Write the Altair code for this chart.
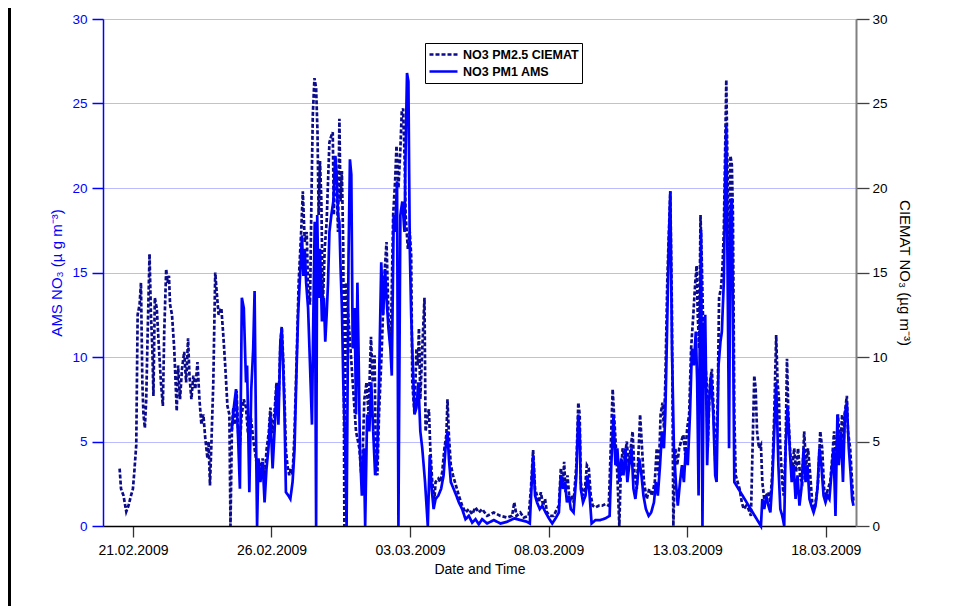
import altair as alt
import pandas as pd

# ---- data (day offset from 20.02.2009 00:00, value in ug m-3) ----
ciemat_day = [
    0.52, 0.57, 0.66, 0.76, 0.84, 0.93, 1.00, 1.05, 1.12, 1.17, 1.24, 1.29, 1.34, 1.38, 1.43, 1.48,
    1.53, 1.60, 1.65, 1.70, 1.74, 1.79, 1.86, 1.94, 2.01, 2.08, 2.13, 2.20, 2.25, 2.30, 2.34, 2.41,
    2.49, 2.53, 2.58, 2.63, 2.70, 2.77, 2.85, 2.92, 2.99, 3.04, 3.11, 3.18, 3.25, 3.33, 3.40, 3.47,
    3.54, 3.61, 3.69, 3.73, 3.78, 3.83, 3.90, 3.97, 4.02, 4.09, 4.19, 4.26, 4.33, 4.41, 4.48, 4.52,
    4.57, 4.62, 4.68, 4.74, 4.80, 4.86, 4.92, 5.00, 5.08, 5.15, 5.25, 5.35, 5.44, 5.50, 5.56, 5.62,
    5.68, 5.75, 5.82, 5.90, 5.96, 6.04, 6.10, 6.18, 6.25, 6.32, 6.37, 6.42, 6.47, 6.52, 6.58, 6.64,
    6.70, 6.76, 6.83, 6.90, 6.98, 7.07, 7.13, 7.20, 7.27, 7.32, 7.39, 7.44, 7.49, 7.55, 7.61, 7.66,
    7.70, 7.75, 7.80, 7.85, 7.92, 7.99, 8.04, 8.09, 8.16, 8.21, 8.25, 8.30, 8.35, 8.40, 8.45, 8.49,
    8.54, 8.59, 8.63, 8.69, 8.81, 8.93, 9.05, 9.17, 9.26, 9.35, 9.43, 9.50, 9.59, 9.65, 9.72, 9.76,
    9.82, 9.88, 9.98, 10.06, 10.15, 10.22, 10.30, 10.39, 10.46, 10.51, 10.58, 10.65, 10.70, 10.75, 10.80, 10.84,
    10.92, 10.99, 11.04, 11.08, 11.16, 11.23, 11.28, 11.32, 11.37, 11.44, 11.52, 11.56, 11.64, 11.68, 11.73, 11.80,
    11.88, 11.92, 12.02, 12.09, 12.16, 12.24, 12.31, 12.35, 12.40, 12.47, 12.55, 12.62, 12.69, 12.76, 12.88, 13.00,
    13.12, 13.24, 13.36, 13.48, 13.60, 13.78, 14.02, 14.26, 14.50, 14.68, 14.76, 14.84, 14.98, 15.10, 15.28, 15.36,
    15.44, 15.51, 15.58, 15.65, 15.72, 15.80, 15.87, 15.94, 16.06, 16.18, 16.30, 16.37, 16.44, 16.52, 16.56, 16.61,
    16.68, 16.76, 16.83, 16.90, 17.00, 17.07, 17.12, 17.16, 17.24, 17.31, 17.38, 17.45, 17.52, 17.59, 17.69, 17.81,
    17.93, 18.05, 18.17, 18.24, 18.31, 18.36, 18.43, 18.48, 18.55, 18.60, 18.67, 18.74, 18.82, 18.89, 18.96, 19.03,
    19.10, 19.18, 19.25, 19.30, 19.37, 19.44, 19.54, 19.63, 19.73, 19.83, 19.90, 19.97, 20.04, 20.11, 20.16, 20.21,
    20.28, 20.33, 20.39, 20.45, 20.50, 20.57, 20.64, 20.71, 20.78, 20.86, 20.93, 21.00, 21.07, 21.14, 21.22, 21.29,
    21.34, 21.38, 21.43, 21.48, 21.53, 21.58, 21.62, 21.70, 21.74, 21.82, 21.89, 21.96, 22.03, 22.10, 22.15, 22.22,
    22.27, 22.32, 22.37, 22.41, 22.46, 22.51, 22.56, 22.61, 22.65, 22.70, 22.75, 22.82, 22.89, 22.97, 23.04, 23.13,
    23.21, 23.30, 23.42, 23.47, 23.52, 23.59, 23.66, 23.71, 23.78, 23.85, 23.93, 24.00, 24.07, 24.14, 24.21, 24.26,
    24.31, 24.36, 24.43, 24.48, 24.55, 24.60, 24.65, 24.72, 24.79, 24.86, 24.93, 25.00, 25.08, 25.15, 25.22, 25.29,
    25.36, 25.44, 25.51, 25.58, 25.65, 25.72, 25.80, 25.87, 25.94, 26.01, 26.08, 26.16, 26.23, 26.30, 26.37, 26.44,
    26.52, 26.59, 26.64, 26.68, 26.76, 26.80, 26.88, 26.95, 27.00,
]
ciemat_val = [
    3.4, 2.2, 1.8, 0.85, 1.2, 1.8, 2.2, 3.2, 4.8, 12.5, 13.1, 14.4, 8.5, 6.6, 5.8, 7.5,
    11.3, 16.1, 12.5, 10.5, 7.7, 13.5, 12.9, 10.5, 8.5, 7.1, 11.5, 15.2, 14.4, 14.8, 13.1, 12.5,
    10.5, 8.9, 6.8, 9.5, 7.5, 9.3, 10.3, 8.5, 11.1, 8.9, 7.5, 8.9, 8.1, 9.7, 7.5, 6.0,
    6.6, 5.2, 4.0, 5.0, 2.4, 4.8, 8.5, 15.0, 13.9, 12.5, 12.9, 11.3, 9.5, 7.1, 6.6, 0.0,
    5.6, 7.0, 6.0, 8.0, 5.5, 4.8, 6.5, 7.5, 7.0, 5.5, 6.5, 5.0, 4.0, 3.0, 3.8, 3.3,
    4.0, 2.5, 4.5, 5.5, 7.0, 5.5, 6.5, 8.5, 7.0, 10.8, 11.8, 10.0, 7.5, 4.5, 3.5, 3.0,
    3.4, 3.0, 5.5, 9.5, 14.4, 17.4, 19.8, 16.8, 17.4, 14.1, 13.1, 19.2, 24.3, 26.5, 25.9, 23.3,
    18.4, 21.6, 19.2, 12.9, 16.4, 18.0, 20.4, 22.7, 23.1, 23.3, 18.4, 21.9, 20.4, 17.4, 24.1, 19.2,
    21.0, 16.4, 0.0, 14.4, 11.5, 8.5, 5.6, 4.6, 2.6, 7.5, 8.5, 6.6, 11.2, 8.5, 10.1, 4.6,
    3.0, 6.6, 10.5, 14.4, 16.8, 12.5, 10.5, 18.4, 20.4, 22.5, 20.0, 22.3, 24.5, 24.7, 21.9, 18.4,
    16.4, 17.4, 16.0, 8.5, 6.6, 10.5, 9.5, 11.7, 7.5, 10.5, 13.5, 5.6, 6.6, 6.9, 4.6, 2.6,
    1.6, 2.6, 2.8, 2.6, 3.2, 4.6, 5.4, 7.5, 5.4, 3.6, 3.0, 2.6, 2.2, 1.8, 1.2, 0.8,
    1.0, 0.7, 1.1, 0.8, 1.0, 0.6, 0.8, 0.6, 0.5, 0.6, 1.4, 0.6, 0.8, 0.5, 0.6, 2.2,
    4.5, 2.2, 1.8, 1.4, 2.0, 1.2, 1.6, 0.8, 0.6, 0.6, 1.0, 1.2, 3.4, 2.6, 3.8, 2.0,
    3.0, 1.4, 1.8, 1.4, 3.6, 7.3, 6.6, 2.6, 1.8, 2.2, 3.6, 3.4, 1.8, 1.2, 1.1, 1.2,
    1.2, 1.3, 1.2, 4.6, 8.1, 6.6, 4.6, 3.0, 0.0, 3.0, 4.6, 4.0, 5.0, 3.6, 4.6, 5.6,
    3.0, 2.2, 4.6, 6.6, 4.6, 2.6, 1.6, 2.2, 1.8, 2.6, 4.6, 3.0, 6.6, 7.3, 5.8, 8.5,
    14.4, 17.0, 19.8, 12.5, 0.0, 4.6, 3.6, 4.6, 5.0, 5.4, 4.2, 5.8, 6.6, 10.5, 12.5, 14.4,
    15.4, 12.5, 10.5, 18.4, 15.4, 11.5, 10.5, 8.5, 4.6, 8.5, 9.3, 6.6, 3.0, 7.5, 13.5, 14.1,
    15.2, 17.4, 22.3, 26.4, 20.4, 14.4, 21.9, 21.4, 18.4, 6.6, 3.0, 2.6, 2.2, 1.4, 1.0, 1.2,
    1.0, 0.6, 8.9, 8.1, 5.6, 4.6, 4.8, 2.6, 1.6, 1.8, 2.0, 1.4, 3.2, 6.6, 11.3, 8.5,
    7.5, 4.6, 2.6, 1.8, 4.6, 9.9, 6.6, 4.2, 3.4, 4.6, 3.2, 4.6, 2.8, 2.6, 5.6, 3.6,
    4.6, 3.0, 1.4, 1.0, 1.6, 2.6, 5.6, 4.6, 2.2, 1.8, 2.2, 2.6, 4.0, 5.6, 3.6, 6.6,
    4.6, 6.6, 4.6, 6.6, 7.7, 5.6, 4.6, 2.6, 1.4,
]

ams_day = [
    4.56, 4.64, 4.72, 4.80, 4.86, 4.93, 5.00, 5.08, 5.12, 5.20, 5.27, 5.34, 5.39, 5.44, 5.48, 5.53,
    5.60, 5.68, 5.75, 5.82, 5.89, 5.96, 6.04, 6.11, 6.18, 6.25, 6.32, 6.37, 6.42, 6.47, 6.52, 6.61,
    6.68, 6.76, 6.83, 6.90, 6.96, 7.03, 7.10, 7.15, 7.20, 7.25, 7.32, 7.39, 7.46, 7.51, 7.56, 7.61,
    7.65, 7.70, 7.75, 7.82, 7.89, 7.94, 7.99, 8.04, 8.09, 8.16, 8.23, 8.30, 8.35, 8.40, 8.45, 8.49,
    8.54, 8.59, 8.66, 8.71, 8.78, 8.83, 8.88, 8.93, 9.00, 9.05, 9.10, 9.14, 9.19, 9.26, 9.33, 9.38,
    9.45, 9.53, 9.60, 9.67, 9.74, 9.81, 9.88, 9.96, 10.03, 10.10, 10.15, 10.22, 10.29, 10.34, 10.41, 10.46,
    10.53, 10.58, 10.65, 10.72, 10.80, 10.84, 10.89, 10.94, 10.99, 11.04, 11.08, 11.16, 11.23, 11.30, 11.37, 11.44,
    11.54, 11.64, 11.71, 11.78, 11.85, 11.92, 12.02, 12.12, 12.21, 12.28, 12.35, 12.40, 12.47, 12.57, 12.67, 12.76,
    12.88, 13.00, 13.12, 13.24, 13.36, 13.48, 13.60, 13.78, 14.02, 14.26, 14.50, 14.76, 14.98, 15.22, 15.32, 15.39,
    15.44, 15.51, 15.58, 15.68, 15.77, 15.89, 16.01, 16.13, 16.25, 16.37, 16.44, 16.52, 16.59, 16.66, 16.73, 16.80,
    16.90, 17.00, 17.07, 17.12, 17.16, 17.24, 17.33, 17.40, 17.47, 17.55, 17.69, 17.86, 18.05, 18.20, 18.26, 18.34,
    18.41, 18.48, 18.55, 18.62, 18.70, 18.77, 18.84, 18.91, 18.99, 19.06, 19.13, 19.20, 19.27, 19.35, 19.42, 19.51,
    19.61, 19.70, 19.80, 19.87, 19.94, 20.02, 20.09, 20.16, 20.21, 20.26, 20.33, 20.39, 20.45, 20.52, 20.59, 20.66,
    20.74, 20.81, 20.88, 20.95, 21.02, 21.10, 21.17, 21.24, 21.31, 21.36, 21.41, 21.46, 21.50, 21.55, 21.60, 21.65,
    21.72, 21.79, 21.86, 21.94, 22.01, 22.06, 22.13, 22.20, 22.25, 22.32, 22.37, 22.41, 22.46, 22.51, 22.56, 22.61,
    22.65, 22.70, 23.66, 23.71, 23.78, 23.85, 23.93, 24.00, 24.07, 24.14, 24.21, 24.29, 24.36, 24.43, 24.50, 24.55,
    24.62, 24.70, 24.77, 24.84, 24.91, 24.98, 25.05, 25.12, 25.20, 25.27, 25.34, 25.41, 25.48, 25.56, 25.63, 25.70,
    25.77, 25.84, 25.92, 25.99, 26.06, 26.13, 26.20, 26.28, 26.35, 26.42, 26.47, 26.55, 26.62, 26.69, 26.76, 26.83,
    26.90, 26.95, 27.00,
]
ams_val = [
    5.6, 7.0, 8.1, 5.0, 2.2, 13.5, 12.9, 8.5, 9.5, 2.0, 8.1, 10.5, 13.9, 5.6, 0.0, 4.0,
    2.6, 3.8, 1.4, 3.4, 4.6, 6.6, 3.4, 5.6, 8.3, 6.0, 10.9, 11.7, 9.5, 6.6, 2.0, 1.8,
    1.6, 2.6, 4.5, 9.0, 12.5, 14.8, 17.2, 14.8, 16.4, 14.4, 12.9, 9.5, 6.0, 12.5, 18.0, 0.0,
    18.4, 13.5, 16.4, 12.1, 13.5, 10.9, 12.5, 14.4, 17.4, 18.4, 19.2, 21.9, 20.8, 18.4, 18.0, 15.4,
    12.9, 8.5, 4.6, 0.0, 16.0, 21.7, 20.8, 10.5, 12.9, 6.6, 14.4, 10.5, 4.6, 1.8, 4.6, 0.0,
    6.6, 5.6, 8.5, 5.6, 3.0, 4.0, 8.5, 15.6, 12.5, 15.2, 13.5, 11.7, 10.5, 8.9, 18.4, 17.4,
    20.4, 0.0, 18.4, 19.2, 17.4, 22.3, 26.8, 26.3, 16.4, 12.5, 10.5, 6.6, 7.0, 8.5, 5.6, 4.6,
    2.6, 0.0, 4.2, 2.2, 1.0, 1.6, 1.8, 2.2, 3.0, 4.6, 5.6, 4.0, 2.6, 2.2, 1.8, 1.4,
    1.0, 0.4, 0.6, 0.2, 0.4, 0.1, 0.4, 0.15, 0.35, 0.15, 0.25, 0.45, 0.35, 0.25, 0.15, 2.6,
    4.2, 1.8, 1.4, 1.0, 1.2, 0.8, 0.45, 0.15, 0.45, 0.8, 3.0, 2.2, 2.6, 1.4, 1.8, 1.0,
    0.8, 3.0, 6.6, 5.6, 2.2, 1.4, 1.8, 3.0, 2.0, 0.15, 0.35, 0.35, 0.45, 0.6, 3.6, 6.6,
    3.6, 4.6, 2.6, 4.0, 3.0, 4.6, 2.6, 3.6, 4.6, 2.2, 1.6, 2.6, 4.0, 3.0, 1.8, 1.0,
    0.6, 0.8, 1.4, 2.6, 1.8, 3.6, 5.6, 4.6, 6.6, 10.5, 16.4, 19.8, 10.5, 4.6, 2.6, 1.2,
    2.6, 3.6, 2.6, 4.6, 3.6, 6.6, 10.5, 9.5, 11.5, 8.5, 1.8, 12.5, 17.5, 0.0, 11.5, 12.5,
    3.6, 7.5, 8.9, 6.6, 3.0, 2.6, 9.5, 10.9, 11.5, 14.4, 20.4, 23.7, 14.4, 4.6, 18.4, 19.4,
    12.5, 2.6, 0.0, 1.6, 1.0, 1.8, 1.2, 0.8, 2.6, 5.6, 8.5, 3.6, 1.0, 0.6, 0.0, 4.6,
    7.1, 4.6, 2.6, 3.6, 1.6, 3.0, 1.2, 2.2, 4.6, 2.6, 3.6, 1.6, 1.2, 0.8, 1.2, 2.2,
    4.6, 3.6, 1.8, 1.4, 1.8, 1.6, 3.0, 4.6, 0.6, 6.6, 3.6, 5.6, 2.6, 6.6, 7.3, 4.6,
    3.0, 1.6, 1.2,
]

series_names = ["NO3 PM2.5 CIEMAT", "NO3 PM1  AMS"]
series_colors = ["#0B0B8C", "#0000FF"]
series_dash = [[4, 2], [1, 0]]
y_ticks = [0, 5, 10, 15, 20, 25, 30]

base = pd.Timestamp("2009-02-20")
df_c = pd.DataFrame({
    "t": base + pd.to_timedelta(ciemat_day, unit="D"),
    "v": ciemat_val,
    "s": series_names[0],
})
df_a = pd.DataFrame({
    "t": base + pd.to_timedelta(ams_day, unit="D"),
    "v": ams_val,
    "s": series_names[1],
})

FONT = "Arial, 'Liberation Sans', sans-serif"

x_enc = alt.X(
    "t:T",
    scale=alt.Scale(domain=[
        alt.DateTime(year=2009, month=2, date=19, hours=22, minutes=5),
        alt.DateTime(year=2009, month=3, date=19, hours=2, minutes=10),
    ]),
    axis=alt.Axis(
        values=[
            alt.DateTime(year=2009, month=2, date=21),
            alt.DateTime(year=2009, month=2, date=26),
            alt.DateTime(year=2009, month=3, date=3),
            alt.DateTime(year=2009, month=3, date=8),
            alt.DateTime(year=2009, month=3, date=13),
            alt.DateTime(year=2009, month=3, date=18),
        ],
        format="%d.%m.%Y",
        title="Date and Time",
        grid=False,
        domainColor="black",
        domainWidth=1.5,
        tickColor="#333333",
        tickWidth=1.3,
        tickSize=11,
        labelColor="black",
        labelFontSize=14,
        labelPadding=6,
        labelFont=FONT,
        titleFont=FONT,
        titleFontSize=14,
        titleFontWeight="normal",
        titleColor="black",
        titlePadding=5,
    ),
)

color_enc = alt.Color(
    "s:N",
    scale=alt.Scale(domain=series_names, range=series_colors),
    legend=alt.Legend(title=None, orient="none", legendX=322, legendY=24),
)
dash_enc = alt.StrokeDash(
    "s:N",
    scale=alt.Scale(domain=series_names, range=series_dash),
    legend=alt.Legend(title=None, orient="none", legendX=322, legendY=24),
)

ciemat = alt.Chart(df_c).mark_line(strokeWidth=2.7).encode(
    x=x_enc,
    y=alt.Y(
        "v:Q",
        scale=alt.Scale(domain=[0, 30], nice=False),
        axis=alt.Axis(
            orient="right",
            values=y_ticks,
            title="CIEMAT NO₃ (µg m⁻³)",
            titleAngle=90,
            grid=False,
            domainColor="#808080",
            domainWidth=2,
            tickColor="#404040",
            tickWidth=1.3,
            tickSize=13,
            labelColor="black",
            labelFontSize=13.5,
            labelPadding=3,
            labelFont=FONT,
            titleFont=FONT,
            titleFontSize=15,
            titleFontWeight="normal",
            titleColor="black",
            titlePadding=9,
        ),
    ),
    color=color_enc,
    strokeDash=dash_enc,
)

ams = alt.Chart(df_a).mark_line(strokeWidth=2.7).encode(
    x=x_enc,
    y=alt.Y(
        "v:Q",
        scale=alt.Scale(domain=[0, 30], nice=False),
        axis=alt.Axis(
            orient="left",
            values=y_ticks,
            title="AMS NO₃ (µ g m⁻³)",
            grid=True,
            gridColor="#7777FF",
            gridDash=[1, 1],
            gridWidth=1,
            domainColor="#0000FF",
            domainWidth=1.5,
            tickColor="#0000FF",
            tickWidth=1.5,
            tickSize=11,
            labelColor="#0000FF",
            labelFontSize=13.5,
            labelPadding=5,
            labelFont=FONT,
            titleFont=FONT,
            titleFontSize=15,
            titleFontWeight="normal",
            titleColor="#0000FF",
            titlePadding=7,
        ),
    ),
    color=color_enc,
    strokeDash=dash_enc,
)

frame = alt.Chart(df_a).mark_rule(color="black", strokeWidth=2.5).encode(
    x=alt.value(-94), y=alt.value(-11), y2=alt.value(590)
)

chart = (
    alt.layer(ciemat, ams, frame)
    .resolve_scale(y="independent")
    .properties(
        width=753,
        height=507,
        padding={"left": 95, "top": 11, "right": 85, "bottom": 80},
        autosize=alt.AutoSizeParams(type="none"),
        background="white",
    )
    .configure_view(strokeWidth=0)
    .configure_legend(
        symbolType="stroke",
        symbolSize=784,
        symbolStrokeWidth=2.4,
        labelFont=FONT,
        labelFontSize=12.5,
        labelFontWeight="bold",
        labelColor="black",
        labelOffset=4,
        strokeColor="black",
        fillColor="white",
        padding=3,
        clipHeight=17,
        rowPadding=0,
    )
)

chart.save("out.html", embed_options={"renderer": "svg", "actions": False})
